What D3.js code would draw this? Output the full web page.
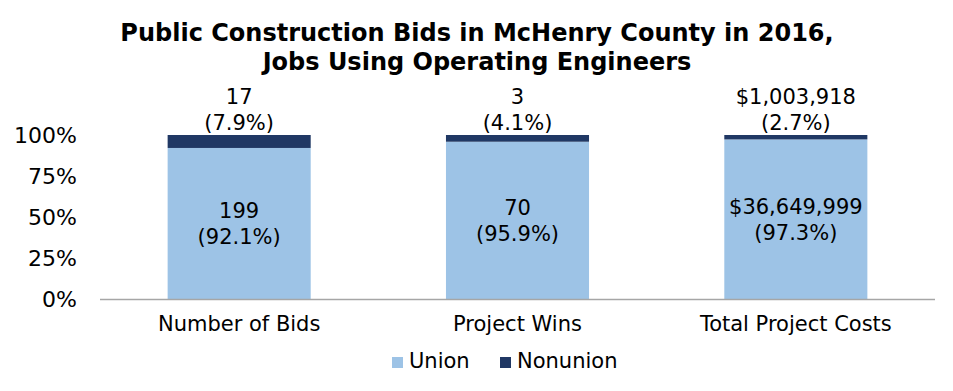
<!DOCTYPE html>
<html><head><meta charset="utf-8">
<script src="https://cdn.jsdelivr.net/npm/d3@7"></script>
<style>body{margin:0;background:#fff;}svg{display:block;font-family:"DejaVu Sans",Verdana,sans-serif;}</style>
</head><body>
<svg id="c" width="953" height="391"></svg>
<script>
const categories = ["Number of Bids", "Project Wins", "Total Project Costs"];
const unionValues = ["199", "70", "$36,649,999"];
const unionPct = [92.1, 95.9, 97.3];
const nonunionValues = ["17", "3", "$1,003,918"];
const nonunionPct = [7.9, 4.1, 2.7];
const yTicks = [0, 25, 50, 75, 100];
const seriesNames = ["Union", "Nonunion"];
const colors = ["#9DC3E6", "#203864"];
const titleLines = ["Public Construction Bids in McHenry County in 2016,", "Jobs Using Operating Engineers"];

const svg = d3.select("#c");
const m = {left: 100, right: 18, top: 135, bottom: 92};
const W = 953, H = 391;
const x = d3.scaleBand().domain(categories).range([m.left, W - m.right]).paddingInner(0.486).paddingOuter(0.243);
const y = d3.scaleLinear().domain([0, 100]).range([H - m.bottom, m.top]);

// title
svg.append("g").selectAll("text").data(titleLines).join("text")
  .attr("x", 477).attr("y", (d, i) => 41 + i * 29)
  .attr("text-anchor", "middle").attr("font-weight", "bold").attr("font-size", 24)
  .attr("fill", "#000").text(d => d);

// y axis
const ya = svg.append("g").attr("transform", `translate(${m.left},0)`)
  .call(d3.axisLeft(y).tickValues(yTicks).tickFormat(d => d + "%").tickSize(0).tickPadding(23));
ya.select(".domain").remove();
ya.selectAll("text").attr("font-size", 22).attr("fill", "#000").attr("font-family", "DejaVu Sans, Verdana, sans-serif");

const data = categories.map((c, i) => ({c, u: unionPct[i], n: nonunionPct[i], uv: unionValues[i], nv: nonunionValues[i]}));

// bars
svg.append("g").selectAll("rect.u").data(data).join("rect")
  .attr("x", d => x(d.c)).attr("width", x.bandwidth())
  .attr("y", d => y(d.u)).attr("height", d => y(0) - y(d.u)).attr("fill", colors[0]);
svg.append("g").selectAll("rect.n").data(data).join("rect")
  .attr("x", d => x(d.c)).attr("width", x.bandwidth())
  .attr("y", d => y(d.u + d.n)).attr("height", d => y(d.u) - y(d.u + d.n)).attr("fill", colors[1]);

// x axis
const xa = svg.append("g").attr("transform", `translate(0,${y(0)})`)
  .call(d3.axisBottom(x).tickSize(0).tickPadding(17));
xa.select(".domain").attr("stroke", "#a6a6a6").attr("stroke-width", 1.3)
  .attr("d", `M${m.left},0.5H${W - m.right}`);
xa.selectAll("text").attr("font-size", 21).attr("fill", "#000").attr("font-family", "DejaVu Sans, Verdana, sans-serif");

// labels
const inner = svg.append("g").attr("font-size", 21).attr("text-anchor", "middle").attr("fill", "#000");
data.forEach(d => {
  const cx = x(d.c) + x.bandwidth() / 2;
  const mid = (y(0) + y(d.u)) / 2;
  inner.append("text").attr("x", cx).attr("y", mid - 5).text(d.uv);
  inner.append("text").attr("x", cx).attr("y", mid + 21).text(`(${d.u.toFixed(1)}%)`);
  const top = y(d.u + d.n);
  inner.append("text").attr("x", cx).attr("y", top - 31).text(d.nv);
  inner.append("text").attr("x", cx).attr("y", top - 5).text(`(${d.n.toFixed(1)}%)`);
});

// legend
const lg = svg.append("g").attr("font-size", 21);
const lx = [392, 500];
seriesNames.forEach((s, i) => {
  lg.append("rect").attr("x", lx[i]).attr("y", 357).attr("width", 11).attr("height", 11).attr("fill", colors[i]);
  lg.append("text").attr("x", lx[i] + 17).attr("y", 368).attr("fill", "#000").text(s);
});
</script>
</body></html>
